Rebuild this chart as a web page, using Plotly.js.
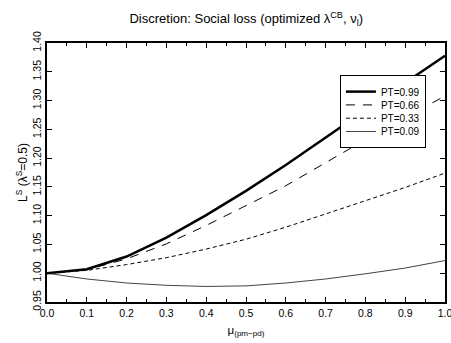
<!DOCTYPE html>
<html>
<head>
<meta charset="utf-8">
<script src="https://cdn.plot.ly/plotly-3.0.1.min.js"></script>
<style>html,body{margin:0;padding:0;background:#fff;}#chart{width:451px;height:343px;}</style>
</head>
<body>
<div id="chart"></div>
<script>
const mu = [0.0, 0.1, 0.2, 0.3, 0.4, 0.5, 0.6, 0.7, 0.8, 0.9, 1.0];
const pt099 = [1.000, 1.007, 1.029, 1.062, 1.101, 1.143, 1.188, 1.236, 1.284, 1.331, 1.378];
const pt066 = [1.000, 1.006, 1.025, 1.051, 1.083, 1.117, 1.152, 1.192, 1.232, 1.270, 1.308];
const pt033 = [1.000, 1.005, 1.015, 1.027, 1.042, 1.059, 1.080, 1.103, 1.127, 1.149, 1.174];
const pt009 = [1.000, 0.990, 0.983, 0.979, 0.977, 0.978, 0.983, 0.990, 0.999, 1.009, 1.022];
const seriesNames = ["PT=0.99", "PT=0.66", "PT=0.33", "PT=0.09"];

const font = "Liberation Sans, Arial, sans-serif";
const traces = [
  {x: mu, y: pt099, name: seriesNames[0], mode: "lines", line: {color: "#000", width: 2.5}},
  {x: mu, y: pt066, name: seriesNames[1], mode: "lines", line: {color: "#000", width: 1, dash: "9px,8px"}},
  {x: mu, y: pt033, name: seriesNames[2], mode: "lines", line: {color: "#000", width: 1, dash: "4px,3px"}},
  {x: mu, y: pt009, name: seriesNames[3], mode: "lines", line: {color: "#444", width: 1}}
];
const axisCommon = {
  showline: true, linecolor: "#000", linewidth: 2, mirror: "ticks",
  ticks: "inside", ticklen: 5, tickcolor: "#000", tickwidth: 1,
  showgrid: false, zeroline: false, ticklabeloverflow: "allow",
  tickfont: {family: font, size: 10.5, color: "#000"}
};
const layout = {
  width: 451, height: 343,
  margin: {l: 47, r: 6, t: 43, b: 41},
  paper_bgcolor: "#fff", plot_bgcolor: "#fff",
  showlegend: true,
  title: {text: "Discretion: Social loss (optimized λ<sup>CB</sup>, ν<sub>l</sub>)",
          font: {family: font, size: 13, color: "#000"}, x: 0.546, xanchor: "center", y: 0.945, yanchor: "middle"},
  xaxis: Object.assign({}, axisCommon, {
    range: [0, 1.00001], dtick: 0.1, tick0: 0, tickformat: ".1f",
    minor: {dtick: 0.05, ticks: "inside", ticklen: 3, tickcolor: "#000"},
    title: {text: "μ<sub>(pm−pd)</sub>", font: {family: font, size: 11.5, color: "#000"}, standoff: 8}
  }),
  yaxis: Object.assign({}, axisCommon, {
    range: [0.95, 1.40], dtick: 0.05, tick0: 0.95, tickformat: ".2f", tickangle: -90,
    title: {text: "L<sup>S</sup> (λ<sup>S</sup>=0.5)", font: {family: font, size: 12, color: "#000"}, standoff: 1}
  }),
  legend: {
    x: 0.736, xanchor: "left", y: 0.876, yanchor: "top",
    bgcolor: "#fff", bordercolor: "#000", borderwidth: 1,
    font: {family: font, size: 10, color: "#000"},
    itemwidth: 30, tracegroupgap: 0
  }
};
Plotly.newPlot("chart", traces, layout, {displayModeBar: false, staticPlot: true}).then(function (gd) {
  // compact the legend rows to match the reference's tighter spacing
  const items = gd.querySelectorAll(".legend .traces");
  if (items.length < 2) return;
  const parse = el => {
    const m = /translate\(\s*([-\d.]+)[ ,]+([-\d.]+)\s*\)/.exec(el.getAttribute("transform") || "");
    return m ? [parseFloat(m[1]), parseFloat(m[2])] : null;
  };
  const p0 = parse(items[0]), p1 = parse(items[1]);
  if (!p0 || !p1) return;
  const oldStep = p1[1] - p0[1], newStep = 13.3, top = p0[1] + 1;
  items.forEach((el, i) => {
    const p = parse(el);
    el.setAttribute("transform", "translate(" + p[0] + "," + (top + i * newStep) + ")");
  });
  const shrink = (oldStep - newStep) * (items.length - 1) - 2;
  const bg = gd.querySelector(".legend .bg");
  if (bg) bg.setAttribute("height", parseFloat(bg.getAttribute("height")) - shrink);
});
</script>
</body>
</html>
